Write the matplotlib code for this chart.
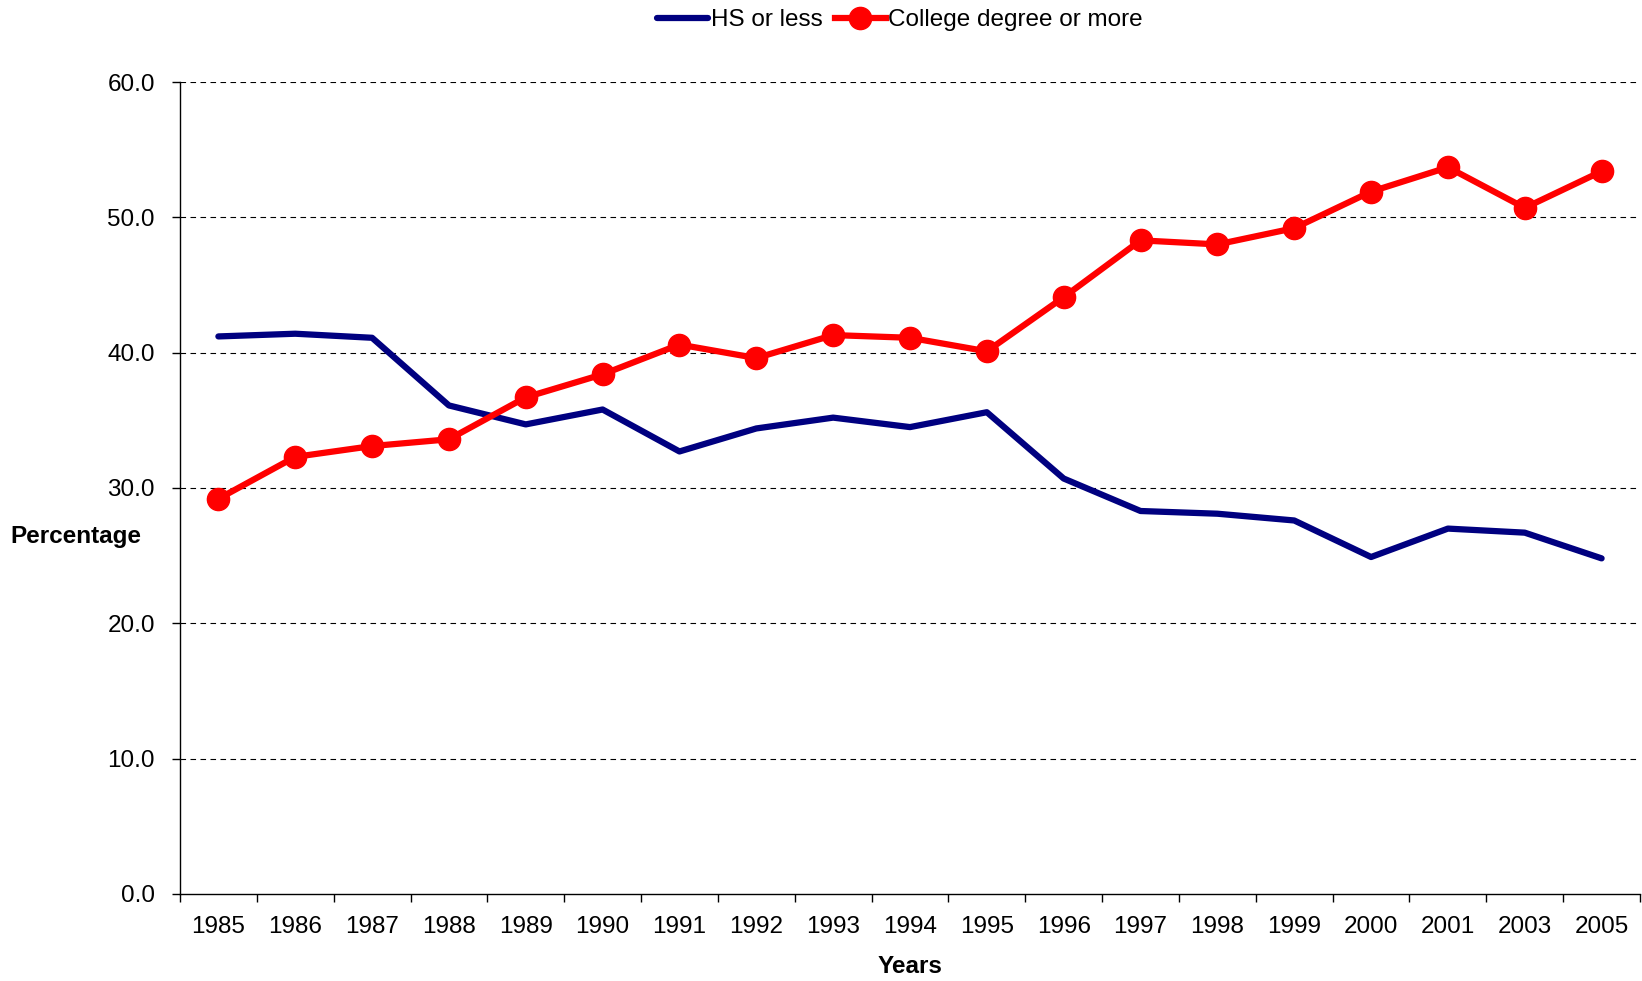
import matplotlib
matplotlib.use("Agg")
import matplotlib.pyplot as plt

plt.rcParams['font.family'] = ['Liberation Sans', 'DejaVu Sans']

years = ['1985', '1986', '1987', '1988', '1989', '1990', '1991', '1992', '1993', '1994',
         '1995', '1996', '1997', '1998', '1999', '2000', '2001', '2003', '2005']
hs_or_less = [41.2, 41.4, 41.1, 36.1, 34.7, 35.8, 32.7, 34.4, 35.2, 34.5,
              35.6, 30.7, 28.3, 28.1, 27.6, 24.9, 27.0, 26.7, 24.8]
college = [29.2, 32.3, 33.1, 33.6, 36.7, 38.4, 40.6, 39.6, 41.3, 41.1,
           40.1, 44.1, 48.3, 48.0, 49.2, 51.9, 53.7, 50.7, 53.4]
y_ticks = [0, 10, 20, 30, 40, 50, 60]

fs = 17.5

fig = plt.figure(figsize=(16.42, 9.81), dpi=100)
ax = fig.add_axes([0.1096, 0.0887, 0.8892, 0.8277])

x = list(range(len(years)))
ax.plot(x, hs_or_less, color='#000080', lw=4.5, label='HS or less', solid_capstyle='round')
ax.plot(x, college, color='#ff0000', lw=4.5, marker='o', markersize=16,
        label='College degree or more')

ax.set_xlim(-0.5, len(years) - 0.5)
ax.set_ylim(0, 60)
ax.set_yticks(y_ticks)
ax.set_yticklabels([f'{v:.1f}' for v in y_ticks], fontsize=fs)
ax.set_xticks([i - 0.5 for i in range(len(years) + 1)])
ax.set_xticklabels([])
ax.set_xticks(x, minor=True)
ax.set_xticklabels(years, minor=True, fontsize=fs)
ax.tick_params(axis='x', which='minor', length=0, pad=16)
ax.tick_params(axis='x', which='major', length=6, direction='out', width=1)
ax.tick_params(axis='y', length=6, direction='out', width=1, pad=12)

for v in y_ticks[1:]:
    ax.axhline(v, color='black', lw=0.8, ls=(0, (5, 4)), zorder=0)

for s in ['top', 'right']:
    ax.spines[s].set_visible(False)
ax.spines['left'].set_linewidth(1)
ax.spines['bottom'].set_linewidth(1)

ax.set_xlabel('Years', fontsize=fs, fontweight='bold', labelpad=12)
fig.text(76 / 1642, 1 - 537 / 981, 'Percentage', fontsize=fs, fontweight='bold',
         ha='center', va='center')

ax.legend(loc='center', bbox_to_anchor=(900 / 1642, 1 - 20 / 981),
          bbox_transform=fig.transFigure, ncol=2, frameon=False, fontsize=fs,
          handlelength=2.1, handletextpad=0.1, columnspacing=0.5, numpoints=1)

fig.savefig('out.png', dpi=100)
